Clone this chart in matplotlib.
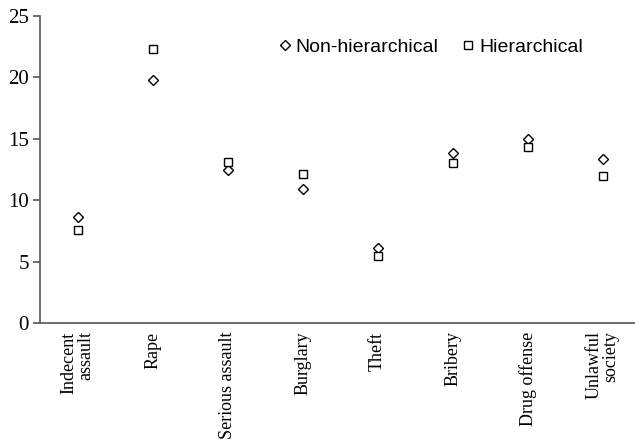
import matplotlib
matplotlib.use('Agg')
import matplotlib.pyplot as plt
import numpy as np

# offence categories and values
categories = ['Indecent\nassault', 'Rape', 'Serious assault', 'Burglary',
              'Theft', 'Bribery', 'Drug offense', 'Unlawful\nsociety']
non_hier = [8.6, 19.8, 12.5, 10.9, 6.1, 13.85, 14.95, 13.35]
hier = [7.6, 22.3, 13.1, 12.1, 5.5, 13.05, 14.35, 12.0]
yticks = [0, 5, 10, 15, 20, 25]

fig = plt.figure(figsize=(6.35, 4.45), dpi=100)
ax = fig.add_axes([0.063, 0.274, 0.937, 0.690])

x = np.arange(len(categories))
ax.plot(x, non_hier, linestyle='none', marker='D', markersize=5.4,
        markerfacecolor='white', markeredgecolor='black', markeredgewidth=1.0,
        label='Non-hierarchical')
ax.plot(x, hier, linestyle='none', marker='s', markersize=6.4,
        markerfacecolor='white', markeredgecolor='black', markeredgewidth=1.0,
        label='Hierarchical')

ax.set_xlim(-0.5, 7.43)
ax.set_ylim(0, 25)
ax.spines['top'].set_visible(False)
ax.spines['right'].set_visible(False)
for s in ['left', 'bottom']:
    ax.spines[s].set_color('#555555')
    ax.spines[s].set_linewidth(1.2)

ax.set_yticks(yticks)
ax.set_yticklabels([str(t) for t in yticks], fontfamily='Liberation Serif', fontsize=15)
ax.tick_params(axis='y', direction='out', length=5, width=1.2, color='#555555', pad=3)

ax.set_xticks(x)
ax.set_xticklabels(categories, rotation=90, fontfamily='Liberation Serif', fontsize=13,
                   va='top', ha='center', multialignment='right', linespacing=1.0)
ax.tick_params(axis='x', length=0, pad=6)

ax.legend(loc='center left', bbox_to_anchor=(0.403, 0.899), frameon=False,
          ncol=2, prop={'family': 'Liberation Sans', 'size': 14},
          borderpad=0, borderaxespad=0, handlelength=0.5, handletextpad=0.3,
          columnspacing=1.3)

plt.savefig('out.png', dpi=100)
